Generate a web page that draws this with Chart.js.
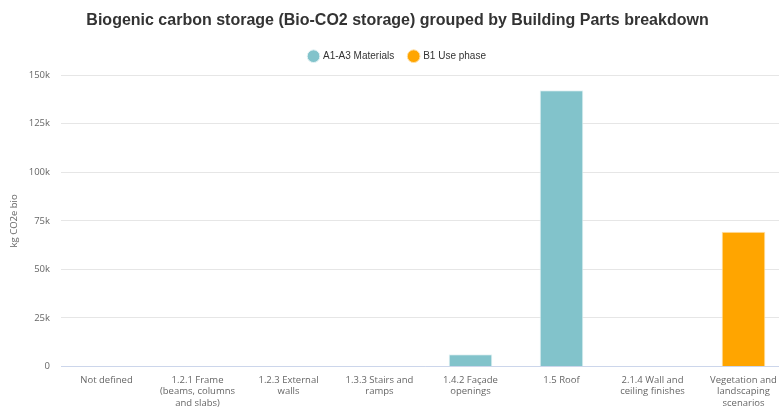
<!DOCTYPE html>
<html>
<head>
<meta charset="utf-8">
<script src="https://cdn.jsdelivr.net/npm/chart.js@4"></script>
<style>
  html, body { margin: 0; padding: 0; background: #fff; overflow: hidden; }
  #wrap { position: relative; width: 795px; height: 412px; }
</style>
</head>
<body>
<div id="wrap"><canvas id="bioChart"></canvas></div>
<script>
const categories = [
  ['Not defined'],
  ['1.2.1 Frame', '(beams, columns', 'and slabs)'],
  ['1.2.3 External', 'walls'],
  ['1.3.3 Stairs and', 'ramps'],
  ['1.4.2 Façade', 'openings'],
  ['1.5 Roof'],
  ['2.1.4 Wall and', 'ceiling finishes'],
  ['Vegetation and', 'landscaping', 'scenarios'],
];
const materialsA1A3 = [0, 0, 0, 0, 6300, 142300, 0, 0];
const useB1 = [0, 0, 0, 0, 0, 0, 0, 69400];
const yTicks = [0, 25000, 50000, 75000, 100000, 125000, 150000];

const tickFont = { family: "'Open Sans', 'Noto Sans', sans-serif", size: 9.5 };

// a little extra room under the legend, before the plot starts
const legendGap = {
  id: 'legendGap',
  beforeLayout(chart) {
    const lg = chart.legend;
    if (!lg || lg._gapPatched) return;
    const fit = lg.fit.bind(lg);
    lg.fit = function () { fit(); this.height += 4; };
    lg._gapPatched = true;
  },
};

new Chart(document.getElementById('bioChart'), {
  type: 'bar',
  data: {
    labels: categories,
    datasets: [
      { label: 'A1-A3 Materials', data: materialsA1A3, backgroundColor: '#82c3cb', borderColor: '#e6f3f5', borderWidth: 1 },
      { label: 'B1 Use phase', data: useB1, backgroundColor: '#ffa500', borderColor: '#ffe0a8', borderWidth: 1 },
    ],
  },
  plugins: [legendGap],
  options: {
    responsive: true,
    maintainAspectRatio: false,
    animation: false,
    layout: { padding: { left: 6, right: 6, top: 0, bottom: 0 } },
    datasets: { bar: { categoryPercentage: 1, barPercentage: 0.48 } },
    plugins: {
      title: {
        display: true,
        text: 'Biogenic carbon storage (Bio-CO2 storage) grouped by Building Parts breakdown',
        color: '#333',
        font: { family: "'Liberation Sans', Arial, sans-serif", size: 16, weight: 'bold' },
        padding: { top: 11, bottom: 6 },
      },
      legend: {
        labels: {
          usePointStyle: true,
          pointStyle: 'circle',
          boxWidth: 9,
          boxHeight: 9,
          color: '#333',
          font: { family: "'Liberation Sans', Arial, sans-serif", size: 10 },
          padding: 15,
        },
      },
      tooltip: { enabled: false },
    },
    scales: {
      x: {
        stacked: true,
        grid: { display: false, drawTicks: false },
        border: { color: '#ccd6eb', width: 1 },
        ticks: { color: '#666', font: tickFont, maxRotation: 0, autoSkip: false, padding: 8 },
        afterFit: (scale) => { scale.height = 45.5; },
      },
      y: {
        stacked: true,
        min: 0,
        max: 150000,
        afterBuildTicks: (scale) => { scale.ticks = yTicks.map((v) => ({ value: v })); },
        grid: { color: '#e6e6e6', drawTicks: false },
        border: { display: false },
        ticks: {
          color: '#666',
          font: tickFont,
          padding: 11,
          callback: (v) => (v === 0 ? '0' : v / 1000 + 'k'),
        },
        title: {
          display: true,
          text: 'kg CO2e bio',
          color: '#666',
          font: tickFont,
          padding: { top: 3, bottom: 0 },
        },
        afterFit: (scale) => { scale.width = 55; },
      },
    },
  },
});
</script>
</body>
</html>
